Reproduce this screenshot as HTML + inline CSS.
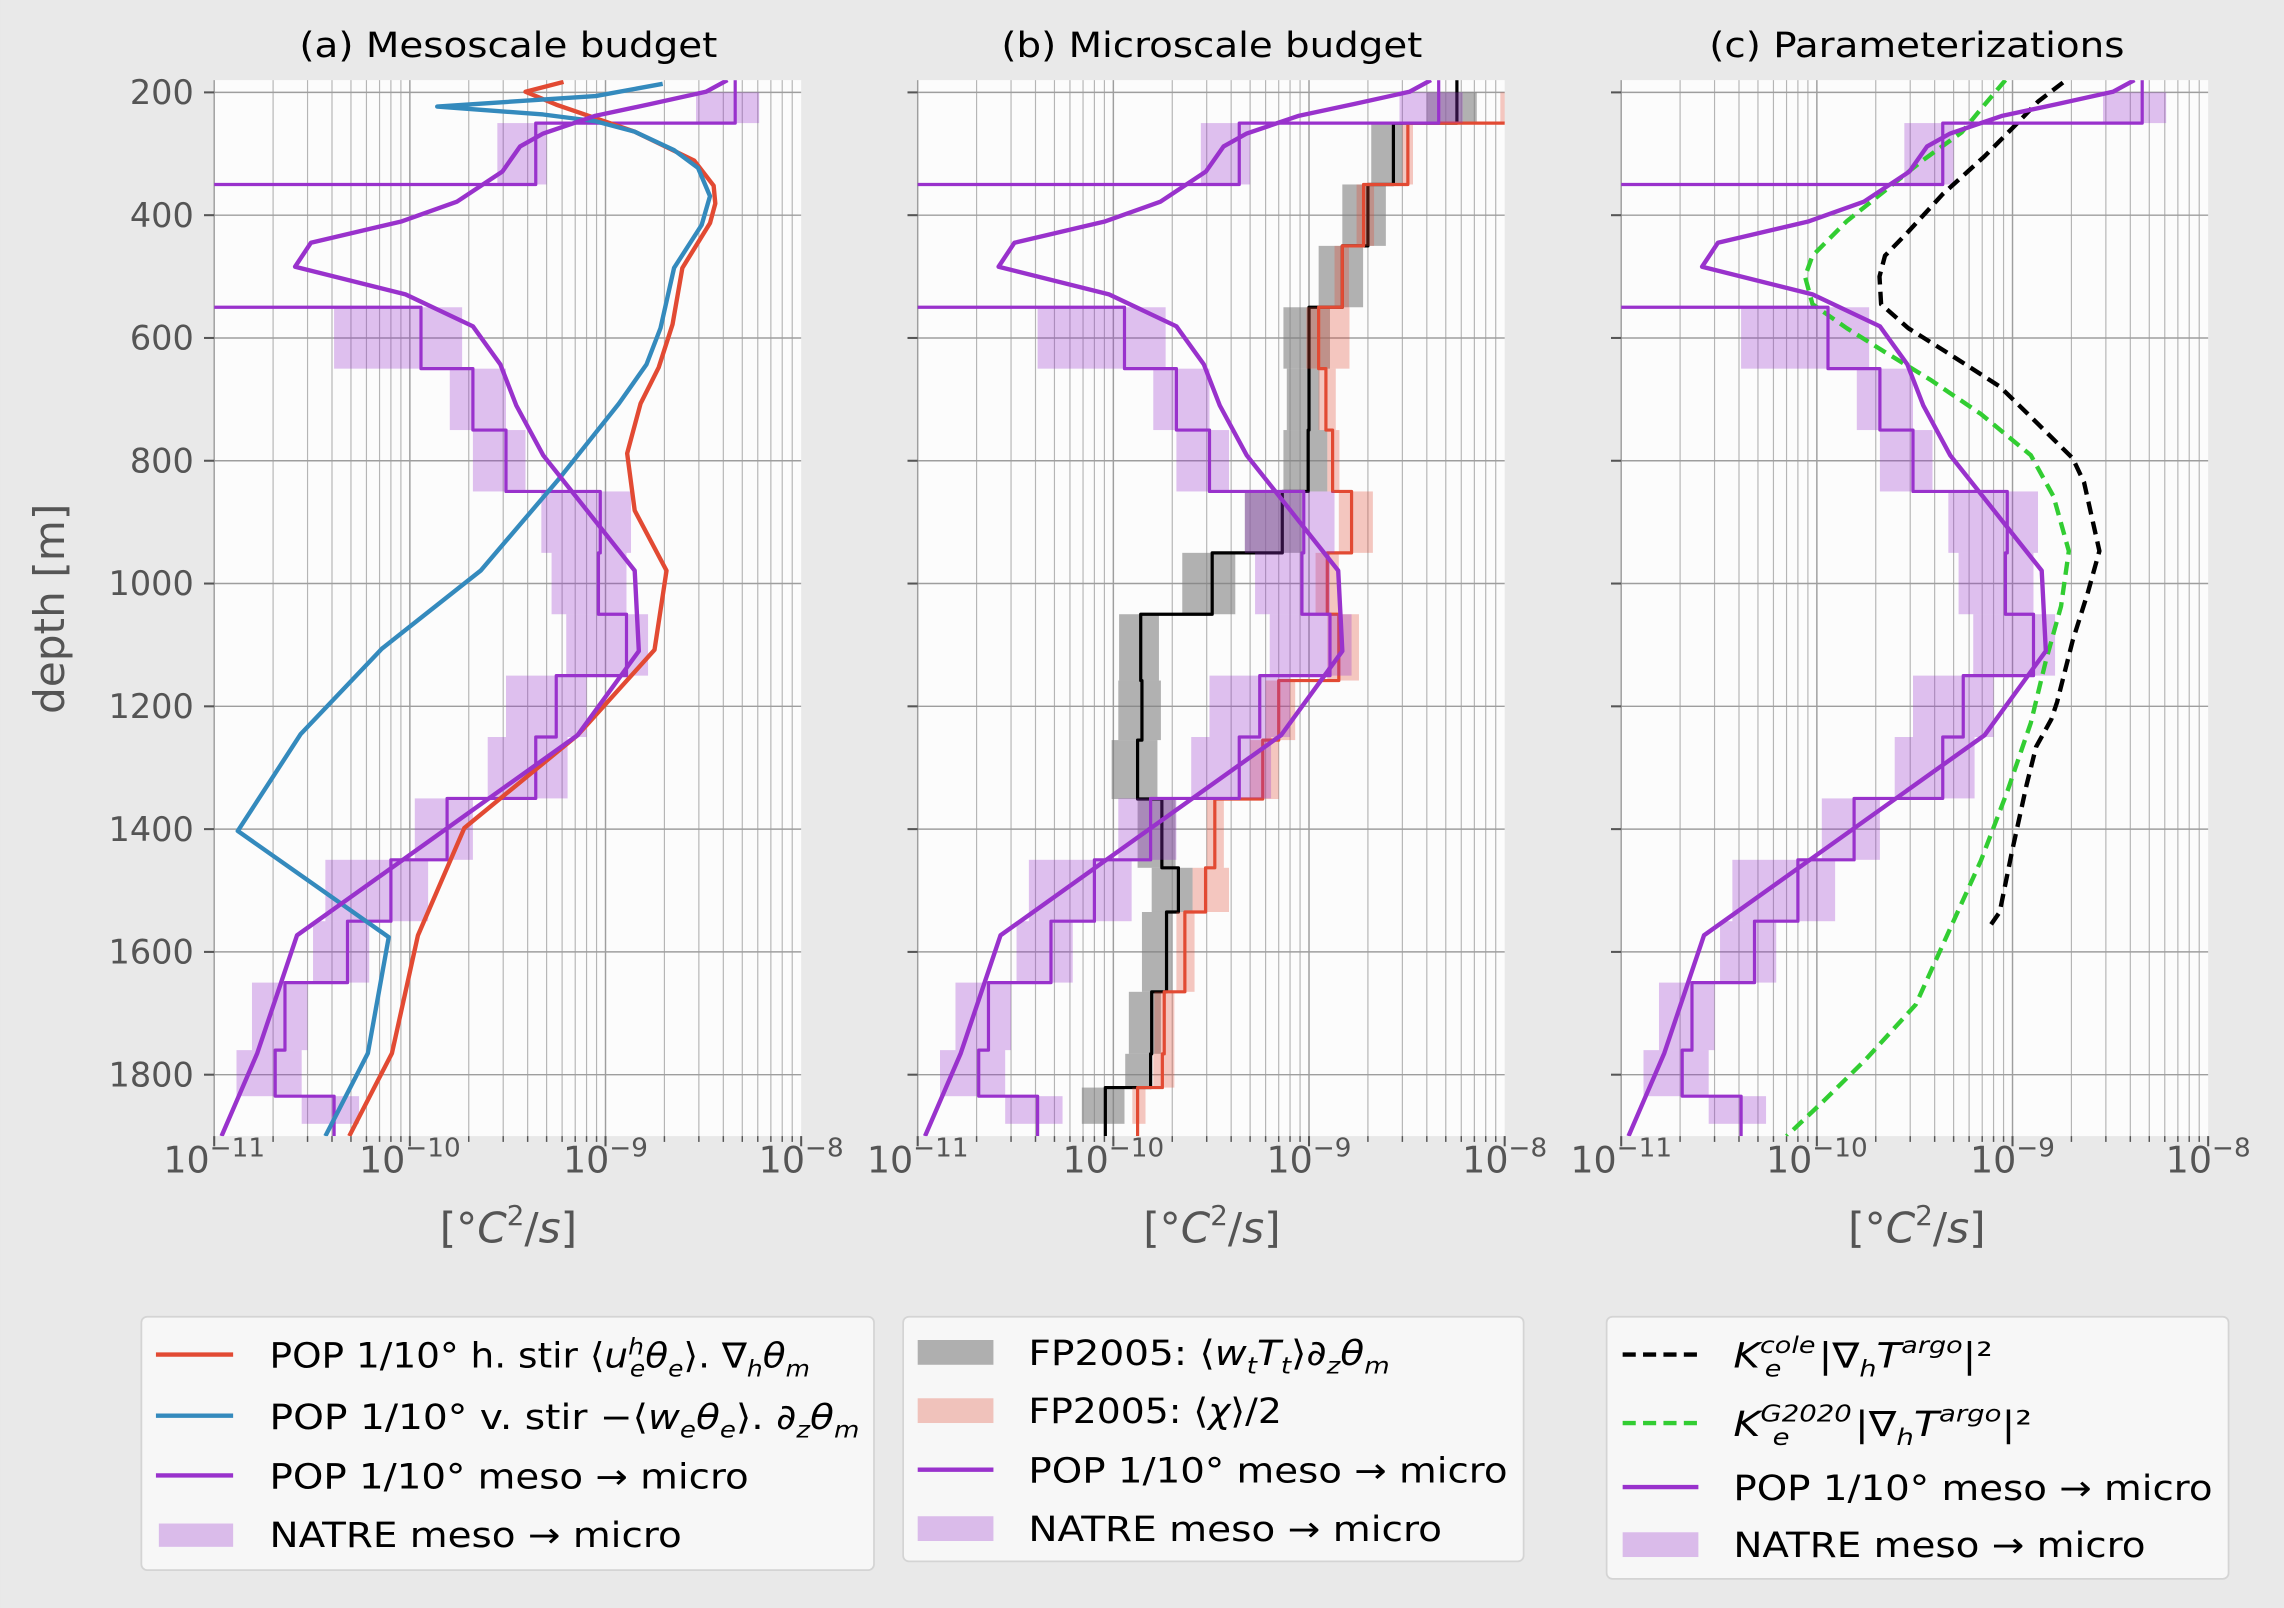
<!DOCTYPE html>
<html>
<head>
<meta charset="utf-8">
<style>
  html,body{margin:0;padding:0;background:#e9e9e9;}
  svg{display:block;}
  text{font-family:"DejaVu Sans","Liberation Sans",sans-serif;}
</style>
</head>
<body>
<svg id="fig" xmlns="http://www.w3.org/2000/svg" viewBox="0 0 1568 1104" width="2284" height="1608">
  <rect x="0" y="0" width="1568" height="1104" fill="#e9e9e9"/>
  <defs>
    <clipPath id="clip0"><rect x="147" y="55" width="403" height="725"/></clipPath>
    <clipPath id="clip1"><rect x="630" y="55" width="403" height="725"/></clipPath>
    <clipPath id="clip2"><rect x="1113" y="55" width="403" height="725"/></clipPath>
  </defs>
  <g id="panels"></g>

  <!-- titles -->
  <text x="349" y="39" font-size="24" text-anchor="middle" textLength="287" lengthAdjust="spacingAndGlyphs">(a) Mesoscale budget</text>
  <text x="832" y="39" font-size="24" text-anchor="middle" textLength="289" lengthAdjust="spacingAndGlyphs">(b) Microscale budget</text>
  <text x="1316" y="39" font-size="24" text-anchor="middle" textLength="285" lengthAdjust="spacingAndGlyphs">(c) Parameterizations</text>

  <!-- y label -->
  <text transform="translate(44,418) rotate(-90)" font-size="29" fill="#555" text-anchor="middle">depth [m]</text>

  <!-- x labels -->
  <text x="349" y="853" font-size="29" fill="#555" text-anchor="middle">[°<tspan font-style="italic">C</tspan><tspan font-size="19" dy="-12">2</tspan><tspan dy="12">/</tspan><tspan font-style="italic">s</tspan>]</text>
  <text x="832" y="853" font-size="29" fill="#555" text-anchor="middle">[°<tspan font-style="italic">C</tspan><tspan font-size="19" dy="-12">2</tspan><tspan dy="12">/</tspan><tspan font-style="italic">s</tspan>]</text>
  <text x="1316" y="853" font-size="29" fill="#555" text-anchor="middle">[°<tspan font-style="italic">C</tspan><tspan font-size="19" dy="-12">2</tspan><tspan dy="12">/</tspan><tspan font-style="italic">s</tspan>]</text>

  <!-- legend a -->
  <g>
    <rect x="97" y="904" width="503" height="174" rx="4" fill="#f7f7f7" stroke="#d4d4d4" stroke-width="1.2"/>
    <line x1="107" y1="930" x2="160" y2="930" stroke="#E24A33" stroke-width="3"/>
    <text x="185" y="939" font-size="24" textLength="371" lengthAdjust="spacingAndGlyphs">POP 1/10° h. stir ⟨<tspan font-style="italic">u</tspan><tspan font-size="16" font-style="italic" dy="-9">h</tspan><tspan font-size="16" font-style="italic" dx="-9" dy="15">e</tspan><tspan font-style="italic" dy="-6">θ</tspan><tspan font-size="16" font-style="italic" dy="6">e</tspan><tspan dy="-6">⟩. ∇</tspan><tspan font-size="16" font-style="italic" dy="6">h</tspan><tspan font-style="italic" dy="-6">θ</tspan><tspan font-size="16" font-style="italic" dy="6">m</tspan></text>
    <line x1="107" y1="972" x2="160" y2="972" stroke="#348ABD" stroke-width="3"/>
    <text x="185" y="981" font-size="24" textLength="405" lengthAdjust="spacingAndGlyphs">POP 1/10° v. stir −⟨<tspan font-style="italic">w</tspan><tspan font-size="16" font-style="italic" dy="6">e</tspan><tspan font-style="italic" dy="-6">θ</tspan><tspan font-size="16" font-style="italic" dy="6">e</tspan><tspan dy="-6">⟩. ∂</tspan><tspan font-size="16" font-style="italic" dy="6">z</tspan><tspan font-style="italic" dy="-6">θ</tspan><tspan font-size="16" font-style="italic" dy="6">m</tspan></text>
    <line x1="107" y1="1013" x2="160" y2="1013" stroke="#9932CC" stroke-width="3"/>
    <text x="185" y="1022" font-size="24" textLength="329" lengthAdjust="spacingAndGlyphs">POP 1/10° meso → micro</text>
    <rect x="109" y="1046" width="51" height="16" fill="#9932CC" fill-opacity="0.3"/>
    <text x="185" y="1062" font-size="24" textLength="283" lengthAdjust="spacingAndGlyphs">NATRE meso → micro</text>
  </g>

  <!-- legend b -->
  <g>
    <rect x="620" y="904" width="426" height="168" rx="4" fill="#f7f7f7" stroke="#d4d4d4" stroke-width="1.2"/>
    <rect x="630" y="920" width="52" height="17" fill="#7f7f7f" fill-opacity="0.6"/>
    <text x="706" y="937" font-size="24" textLength="248" lengthAdjust="spacingAndGlyphs">FP2005: ⟨<tspan font-style="italic">w</tspan><tspan font-size="16" font-style="italic" dy="6">t</tspan><tspan font-style="italic" dy="-6">T</tspan><tspan font-size="16" font-style="italic" dy="6">t</tspan><tspan dy="-6">⟩∂</tspan><tspan font-size="16" font-style="italic" dy="6">z</tspan><tspan font-style="italic" dy="-6">θ</tspan><tspan font-size="16" font-style="italic" dy="6">m</tspan></text>
    <rect x="630" y="960" width="52" height="17" fill="#E24A33" fill-opacity="0.3"/>
    <text x="706" y="977" font-size="24" textLength="174" lengthAdjust="spacingAndGlyphs">FP2005: ⟨<tspan font-style="italic">χ</tspan>⟩/2</text>
    <line x1="630" y1="1009" x2="682" y2="1009" stroke="#9932CC" stroke-width="3"/>
    <text x="706" y="1018" font-size="24" textLength="329" lengthAdjust="spacingAndGlyphs">POP 1/10° meso → micro</text>
    <rect x="630" y="1041" width="52" height="17" fill="#9932CC" fill-opacity="0.3"/>
    <text x="706" y="1058" font-size="24" textLength="284" lengthAdjust="spacingAndGlyphs">NATRE meso → micro</text>
  </g>

  <!-- legend c -->
  <g>
    <rect x="1103" y="904" width="427" height="180" rx="4" fill="#f7f7f7" stroke="#d4d4d4" stroke-width="1.2"/>
    <line x1="1114" y1="930" x2="1166" y2="930" stroke="#000" stroke-width="3" stroke-dasharray="9,5"/>
    <text x="1190" y="939" font-size="24" textLength="178" lengthAdjust="spacingAndGlyphs"><tspan font-style="italic">K</tspan><tspan font-size="16" font-style="italic" dy="-10">cole</tspan><tspan font-size="16" font-style="italic" dx="-30" dy="16">e</tspan><tspan dx="22" dy="-6">|∇</tspan><tspan font-size="16" font-style="italic" dy="6">h</tspan><tspan font-style="italic" dy="-6">T</tspan><tspan font-size="16" font-style="italic" dy="-10">argo</tspan><tspan dy="10">|²</tspan></text>
    <line x1="1114" y1="977" x2="1166" y2="977" stroke="#32CD32" stroke-width="3" stroke-dasharray="9,5"/>
    <text x="1190" y="986" font-size="24" textLength="205" lengthAdjust="spacingAndGlyphs"><tspan font-style="italic">K</tspan><tspan font-size="16" font-style="italic" dy="-10">G2020</tspan><tspan font-size="16" font-style="italic" dx="-46" dy="16">e</tspan><tspan dx="38" dy="-6">|∇</tspan><tspan font-size="16" font-style="italic" dy="6">h</tspan><tspan font-style="italic" dy="-6">T</tspan><tspan font-size="16" font-style="italic" dy="-10">argo</tspan><tspan dy="10">|²</tspan></text>
    <line x1="1114" y1="1021" x2="1166" y2="1021" stroke="#9932CC" stroke-width="3"/>
    <text x="1190" y="1030" font-size="24" textLength="329" lengthAdjust="spacingAndGlyphs">POP 1/10° meso → micro</text>
    <rect x="1114" y="1052" width="52" height="17" fill="#9932CC" fill-opacity="0.3"/>
    <text x="1190" y="1069" font-size="24" textLength="283" lengthAdjust="spacingAndGlyphs">NATRE meso → micro</text>
  </g>
</svg>

<script>
// ---------- data ----------
const depthTicks = [200, 400, 600, 800, 1000, 1200, 1400, 1600, 1800];
const decadeExps = [-11, -10, -9, -8];

// POP meso -> micro (all panels)
const popDepth = [180,199,219,238,267,288,329,378,410,445,484,529,581,643,710,791,979,1110,1247,1573,1765,1900];
const popVal = [4.2e-9,3.26e-9,1.7e-9,8.9e-10,4.8e-10,3.66e-10,2.97e-10,1.74e-10,9.1e-11,3.12e-11,2.59e-11,9.5e-11,2.1e-10,2.9e-10,3.5e-10,4.8e-10,1.41e-9,1.48e-9,7.2e-10,2.65e-11,1.66e-11,1.09e-11];

// NATRE meso -> micro (step + band)
const natreEdges = [180,250,350,550,650,750,850,950,1050,1150,1250,1350,1450,1550,1650,1760,1835,1900];
const natreVal = [4.6e-9,4.4e-10,null,1.14e-10,2.1e-10,3.1e-10,9.4e-10,9.2e-10,1.28e-9,5.6e-10,4.4e-10,1.55e-10,8.0e-11,4.8e-11,2.3e-11,2.05e-11,4.1e-11];
const natreLo = [2.9e-9,2.8e-10,null,4.1e-11,1.6e-10,2.1e-10,4.7e-10,5.3e-10,6.3e-10,3.1e-10,2.5e-10,1.06e-10,3.7e-11,3.2e-11,1.56e-11,1.3e-11,2.8e-11];
const natreHi = [6.1e-9,5.0e-10,null,1.85e-10,3.1e-10,3.9e-10,1.35e-9,1.28e-9,1.65e-9,8.0e-10,6.4e-10,2.1e-10,1.24e-10,6.2e-11,3.0e-11,2.8e-11,5.5e-11];

// Panel a
const hstirDepth = [183,199,220,264,311,352,381,413,486,578,648,707,788,881,979,1108,1247,1398,1573,1765,1900];
const hstirVal = [6.1e-10,3.9e-10,5.6e-10,1.41e-9,2.84e-9,3.57e-9,3.64e-9,3.42e-9,2.47e-9,2.2e-9,1.87e-9,1.51e-9,1.29e-9,1.41e-9,2.05e-9,1.78e-9,7.2e-10,1.9e-10,1.1e-10,8.1e-11,4.9e-11];
const vstirDepth = [186,206,223,236,247,264,294,323,369,416,486,584,643,707,829,979,1106,1245,1403,1576,1765,1900];
const vstirVal = [1.96e-9,8.9e-10,1.38e-10,4.8e-10,8.9e-10,1.41e-9,2.24e-9,2.97e-9,3.42e-9,3.1e-9,2.24e-9,1.91e-9,1.62e-9,1.17e-9,5.8e-10,2.3e-10,7.2e-11,2.77e-11,1.32e-11,7.8e-11,6.1e-11,3.7e-11];

// Panel b (FP2005)
const fpEdges = [180,250,350,450,550,650,750,850,950,1050,1158,1255,1351,1463,1535,1665,1766,1821,1900];
const wtVal = [5.7e-9,2.7e-9,2.0e-9,1.48e-9,1.0e-9,1.0e-9,0.99e-9,7.3e-10,3.2e-10,1.38e-10,1.4e-10,1.33e-10,1.77e-10,2.15e-10,1.87e-10,1.57e-10,1.55e-10,9.1e-11];
const wtLo = [4.0e-9,2.08e-9,1.48e-9,1.12e-9,7.4e-10,7.7e-10,7.4e-10,4.7e-10,2.25e-10,1.07e-10,1.06e-10,9.8e-11,1.33e-10,1.57e-10,1.4e-10,1.2e-10,1.15e-10,6.9e-11];
const wtHi = [7.2e-9,3.0e-9,2.47e-9,1.89e-9,1.28e-9,1.13e-9,1.24e-9,9.2e-10,4.2e-10,1.71e-10,1.75e-10,1.68e-10,2.08e-10,2.54e-10,2.0e-10,1.75e-10,1.58e-10,1.14e-10];
const chiVal = [1.2e-8,3.2e-9,1.9e-9,1.48e-9,1.12e-9,1.22e-9,1.32e-9,1.65e-9,1.24e-9,1.42e-9,7.0e-10,5.8e-10,3.3e-10,2.96e-10,2.32e-10,1.82e-10,1.78e-10,1.33e-10];
const chiLo = [9.5e-9,3.0e-9,1.75e-9,1.35e-9,9.7e-10,1.12e-9,1.24e-9,1.42e-9,1.08e-9,1.24e-9,6.0e-10,5.0e-10,3.0e-10,2.54e-10,2.1e-10,1.62e-10,1.6e-10,1.25e-10];
const chiHi = [1.3e-8,3.4e-9,2.15e-9,1.6e-9,1.61e-9,1.37e-9,1.43e-9,2.12e-9,1.42e-9,1.8e-9,8.5e-10,7.0e-10,3.67e-10,3.9e-10,2.6e-10,2.05e-10,2.05e-10,1.46e-10];

// Panel c
const coleDepth = [184,215,254,304,366,427,466,500,545,584,623,679,740,796,835,947,1014,1093,1193,1221,1266,1328,1439,1535,1557];
const coleVal = [1.81e-9,1.35e-9,1.03e-9,7.2e-10,4.39e-10,2.93e-10,2.23e-10,2.09e-10,2.13e-10,2.93e-10,4.59e-10,8.6e-10,1.35e-9,2.03e-9,2.32e-9,2.78e-9,2.43e-9,2.03e-9,1.69e-9,1.58e-9,1.32e-9,1.18e-9,9.9e-10,8.6e-10,7.7e-10];
const g2020Depth = [180,220,265,310,360,410,466,500,545,584,623,668,724,791,858,947,1037,1126,1227,1339,1451,1562,1686,1775,1842,1900];
const g2020Val = [9.2e-10,7.2e-10,5.5e-10,3.5e-10,2.23e-10,1.42e-10,9.5e-11,8.7e-11,9.5e-11,1.42e-10,2.23e-10,3.8e-10,6.9e-10,1.24e-9,1.62e-9,1.94e-9,1.77e-9,1.48e-9,1.24e-9,9.4e-10,6.9e-10,4.8e-10,3.2e-10,1.78e-10,1.09e-10,7.0e-11];

// ---------- axes ----------
const NS = 'http://www.w3.org/2000/svg';
const panelX0 = [147, 630, 1113];
const PW = 403, PT = 55, PB = 780, DMIN = 180, DMAX = 1900;
const SHADE_TOP = 200, SHADE_BOT = 1880;
function xs(p, v) { return panelX0[p] + (Math.log10(v) + 11) * PW / 3; }
function ys(d) { return PT + (d - DMIN) * (PB - PT) / (DMAX - DMIN); }
function mk(tag, attrs, parent) {
  const el = document.createElementNS(NS, tag);
  for (const k in attrs) el.setAttribute(k, attrs[k]);
  parent.appendChild(el);
  return el;
}
function valX(p, v) { return v === null ? panelX0[p] - 60 : xs(p, v); }
function linePath(p, depths, vals) {
  return depths.map((d, i) => (i ? 'L' : 'M') + xs(p, vals[i]).toFixed(2) + ' ' + ys(d).toFixed(2)).join(' ');
}
function stepPath(p, edges, vals) {
  let s = '';
  for (let i = 0; i < vals.length; i++) {
    const x = valX(p, vals[i]).toFixed(2);
    s += (i === 0 ? 'M' + x + ' ' + ys(edges[0]).toFixed(2) : ' H' + x) + ' V' + ys(edges[i + 1]).toFixed(2);
  }
  return s;
}
function band(p, g, edges, lo, hi, fill, op, name) {
  for (let i = 0; i < lo.length; i++) {
    if (lo[i] === null) continue;
    const d0 = Math.max(edges[i], SHADE_TOP), d1 = Math.min(edges[i + 1], SHADE_BOT);
    const r = mk('rect', {x: xs(p, lo[i]), y: ys(d0), width: xs(p, hi[i]) - xs(p, lo[i]), height: ys(d1) - ys(d0), fill: fill, 'fill-opacity': op}, g);
    
    
  }
}

const root = document.getElementById('panels');
const panelNames = ['mesoscale', 'microscale', 'parameterizations'];
const plots = [];
for (let p = 0; p < 3; p++) {
  const g = mk('g', {}, root);
  
  
  const bg = mk('rect', {x: panelX0[p], y: PT, width: PW, height: PB - PT, fill: '#fcfcfc'}, g);
  
  
  const grid = mk('g', {}, g);
  
  
  for (let e = -11; e < -8; e++) {
    for (let m = 1; m <= 9; m++) {
      const v = m * Math.pow(10, e);
      const x = xs(p, v);
      const gl = mk('line', {x1: x, y1: PT, x2: x, y2: PB, stroke: m === 1 ? '#9e9e9e' : '#b5b5b5', 'stroke-width': m === 1 ? 1 : 0.8}, grid);
      
      
      const tk = mk('line', {x1: x, y1: PB, x2: x, y2: PB + (m === 1 ? 7 : 4), stroke: '#555', 'stroke-width': m === 1 ? 1.4 : 1}, g);
      
      
    }
  }
  const xe = xs(p, 1e-8);
  const lastTick = mk('line', {x1: xe, y1: PB, x2: xe, y2: PB + 7, stroke: '#555', 'stroke-width': 1.4}, g);
  
  
  depthTicks.forEach(d => {
    const hl = mk('line', {x1: panelX0[p], y1: ys(d), x2: panelX0[p] + PW, y2: ys(d), stroke: '#9e9e9e', 'stroke-width': 1}, grid);
    
    
    const tk = mk('line', {x1: panelX0[p] - 7, y1: ys(d), x2: panelX0[p], y2: ys(d), stroke: '#555', 'stroke-width': 1.4}, g);
    
    
    if (p === 0) {
      const t = mk('text', {x: panelX0[p] - 14, y: ys(d) + 8, 'font-size': 23, fill: '#555', 'text-anchor': 'end'}, g);
      t.textContent = String(d);
      
      
    }
  });
  decadeExps.forEach(e => {
    const x = xs(p, Math.pow(10, e));
    const t = mk('text', {x: x, y: 805, 'font-size': 25, fill: '#555', 'text-anchor': 'middle'}, g);
    
    
    const a = mk('tspan', {}, t); a.textContent = '10';
    const b = mk('tspan', {'font-size': 18, dy: -11}, t); b.textContent = '−' + String(-e);
  });
  const data = mk('g', {'clip-path': 'url(#clip' + p + ')'}, g);
  
  
  plots.push(data);
}

function addLine(p, d, name, stroke, w, dash) {
  const a = {d: d, fill: 'none', stroke: stroke, 'stroke-width': w, 'stroke-linejoin': 'round', 'stroke-linecap': 'butt'};
  if (dash) a['stroke-dasharray'] = dash;
  const el = mk('path', a, plots[p]);
  
  
  return el;
}
const PURPLE = '#9932CC', RED = '#E24A33', BLUE = '#348ABD';

// Panel a
band(0, plots[0], natreEdges, natreLo, natreHi, PURPLE, 0.3, 'natre-band-a');
addLine(0, stepPath(0, natreEdges, natreVal), 'natre-step-a', PURPLE, 2.2);
addLine(0, linePath(0, hstirDepth, hstirVal), 'h-stir-line', RED, 3);
addLine(0, linePath(0, vstirDepth, vstirVal), 'v-stir-line', BLUE, 3);
addLine(0, linePath(0, popDepth, popVal), 'pop-line-a', PURPLE, 3);

// Panel b
band(1, plots[1], fpEdges, wtLo, wtHi, '#7f7f7f', 0.6, 'fp2005-wt-band');
addLine(1, stepPath(1, fpEdges, wtVal), 'fp2005-wt-step', '#000', 2.2);
band(1, plots[1], fpEdges, chiLo, chiHi, RED, 0.3, 'fp2005-chi-band');
addLine(1, stepPath(1, fpEdges, chiVal), 'fp2005-chi-step', RED, 2.2);
band(1, plots[1], natreEdges, natreLo, natreHi, PURPLE, 0.3, 'natre-band-b');
addLine(1, stepPath(1, natreEdges, natreVal), 'natre-step-b', PURPLE, 2.2);
addLine(1, linePath(1, popDepth, popVal), 'pop-line-b', PURPLE, 3);

// Panel c
band(2, plots[2], natreEdges, natreLo, natreHi, PURPLE, 0.3, 'natre-band-c');
addLine(2, linePath(2, g2020Depth, g2020Val), 'k-g2020-line', '#32CD32', 3, '9,5');
addLine(2, linePath(2, coleDepth, coleVal), 'k-cole-line', '#000', 3, '9,5');
addLine(2, stepPath(2, natreEdges, natreVal), 'natre-step-c', PURPLE, 2.2);
addLine(2, linePath(2, popDepth, popVal), 'pop-line-c', PURPLE, 3);
</script>
</body>
</html>
